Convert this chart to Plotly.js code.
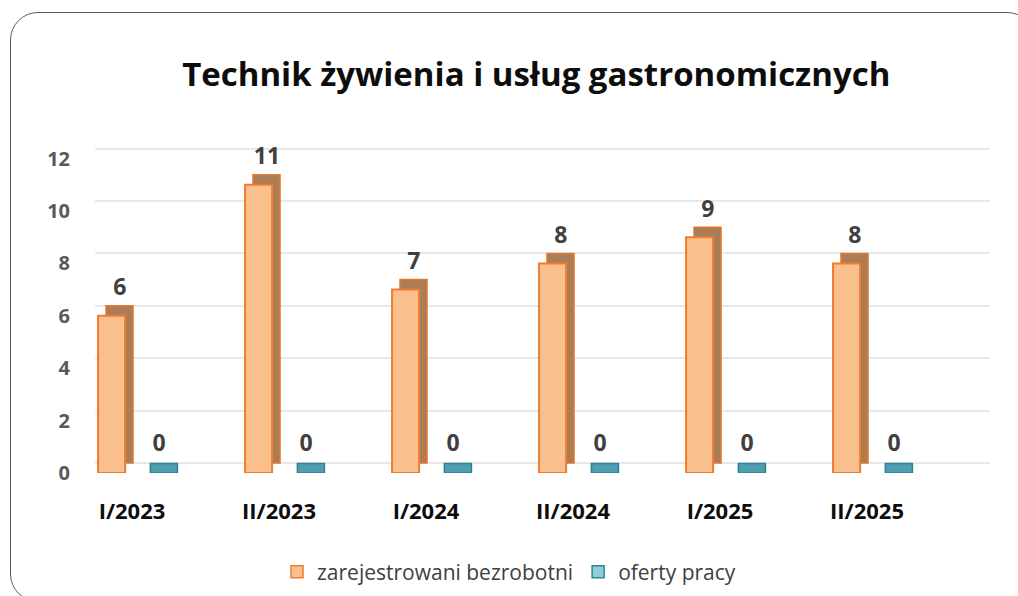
<!DOCTYPE html>
<html>
<head>
<meta charset="utf-8">
<script src="https://cdn.plot.ly/plotly-3.0.1.min.js"></script>
<style>
  html, body { margin: 0; padding: 0; background: #ffffff; overflow: hidden; }
  #chart { width: 1018px; height: 596px; }
  #frame {
    position: absolute; left: 10px; top: 12px; width: 1025px; height: 590px;
    border: 1.5px solid #5a5a5a; border-radius: 28px; pointer-events: none; box-sizing: border-box;
  }
</style>
</head>
<body>
<div id="chart"></div>
<div id="frame"></div>
<script>
// ---- data ----
const categories = ["I/2023", "II/2023", "I/2024", "II/2024", "I/2025", "II/2025"];
const bezrobotni = [6, 11, 7, 8, 9, 8];
const oferty = [0, 0, 0, 0, 0, 0];
const yTickVals = [0, 2, 4, 6, 8, 10, 12];
const seriesNames = ["zarejestrowani bezrobotni", "oferty pracy"];

// ---- style constants ----
const idx = categories.map((_, i) => i);
const depthY = 0.36;      // vertical depth in y units (3D look)
const barW = 0.184;       // bar width in category units
const orangeOff = -0.231; // front face offset
const backShift = 0.054;  // horizontal depth shift
const tealOff = 0.125;
const FONT = "'Open Sans', sans-serif";

const traces = [
  // back block of orange bars (drawn on back-wall axis, below)
  {
    type: "bar", x: idx, y: bezrobotni, yaxis: "y",
    width: barW, offset: orangeOff + backShift,
    marker: { color: "#ab7d57", line: { color: "#e5782a", width: 1.5 } },
    showlegend: false, hoverinfo: "skip"
  },
  // front face orange (front axis, drawn on top)
  {
    type: "bar", x: idx, y: bezrobotni, yaxis: "y2", name: seriesNames[0],
    width: barW, offset: orangeOff,
    marker: { color: "#f9bf8d", line: { color: "#ed7d31", width: 2 } },
    showlegend: false
  },
  // teal flat top face (value 0 bars)
  {
    type: "bar", x: idx, base: oferty, y: oferty.map(() => depthY), yaxis: "y2", name: seriesNames[1],
    width: barW, offset: tealOff,
    marker: { color: "#4e9fb0", line: { color: "#2e8092", width: 1.5 } },
    showlegend: false
  },
  // data labels
  {
    type: "scatter", mode: "text", x: idx.map(i => i - 0.082), y: bezrobotni.map(v => v + 1.0), yaxis: "y2",
    text: bezrobotni.map(String), textposition: "middle center",
    textfont: { family: FONT, size: 23, color: "#404040", weight: "bold" },
    showlegend: false, hoverinfo: "skip"
  },
  {
    type: "scatter", mode: "text", x: idx.map(i => i + 0.184), y: oferty.map(v => v + 1.05), yaxis: "y2",
    text: oferty.map(String), textposition: "middle center",
    textfont: { family: FONT, size: 23, color: "#404040", weight: "bold" },
    showlegend: false, hoverinfo: "skip"
  },
  // legend entries
  {
    type: "bar", x: [null], y: [null], yaxis: "y2", name: seriesNames[0],
    marker: { color: "#f9bf8d", line: { color: "#ed7d31", width: 1.5 } }
  },
  {
    type: "bar", x: [null], y: [null], yaxis: "y2", name: seriesNames[1],
    marker: { color: "#92cddc", line: { color: "#31849b", width: 1.5 } }
  }
];

const yRange = [0, 12.52];
const shift = 10 / 26.2;

const layout = {
  width: 1018, height: 596,
  paper_bgcolor: "rgba(0,0,0,0)", plot_bgcolor: "rgba(0,0,0,0)",
  margin: { l: 95, r: 28, t: 145, b: 123 },
  barmode: "overlay",
  title: {
    text: "Technik żywienia i usług gastronomicznych",
    font: { family: FONT, size: 33, color: "#0d0d0d", weight: "bold" },
    x: 0.493, xanchor: "center", y: 0.875, yanchor: "middle", xref: "paper", yref: "container"
  },
  xaxis: {
    range: [-0.2517, 5.8367], tickvals: idx, ticktext: categories,
    showgrid: false, zeroline: false, showline: false, automargin: false,
    ticks: "outside", ticklen: 19, tickcolor: "rgba(0,0,0,0)",
    tickfont: { family: FONT, size: 22, color: "#0d0d0d", weight: "bold" }
  },
  yaxis: {
    range: [yRange[0] - shift, yRange[1] - shift],
    tickvals: yTickVals, showticklabels: false, automargin: false,
    showgrid: true, gridcolor: "#e8e8e8", gridwidth: 2, zeroline: false, showline: false
  },
  yaxis2: {
    overlaying: "y", side: "left", range: yRange, tickvals: yTickVals, ticktext: yTickVals.map(String),
    showgrid: false, zeroline: false, showline: false, automargin: false,
    ticks: "outside", ticklen: 20, tickcolor: "rgba(0,0,0,0)",
    tickfont: { family: FONT, size: 20, color: "#595959", weight: "bold" }
  },
  legend: {
    orientation: "h", xref: "container", x: 0.5, xanchor: "center",
    yref: "container", y: 0.04, yanchor: "middle",
    font: { family: FONT, size: 21, color: "#404040" }, traceorder: "normal"
  },
  showlegend: true
};

Plotly.newPlot("chart", traces, layout, { displayModeBar: false, staticPlot: true });
</script>
</body>
</html>
